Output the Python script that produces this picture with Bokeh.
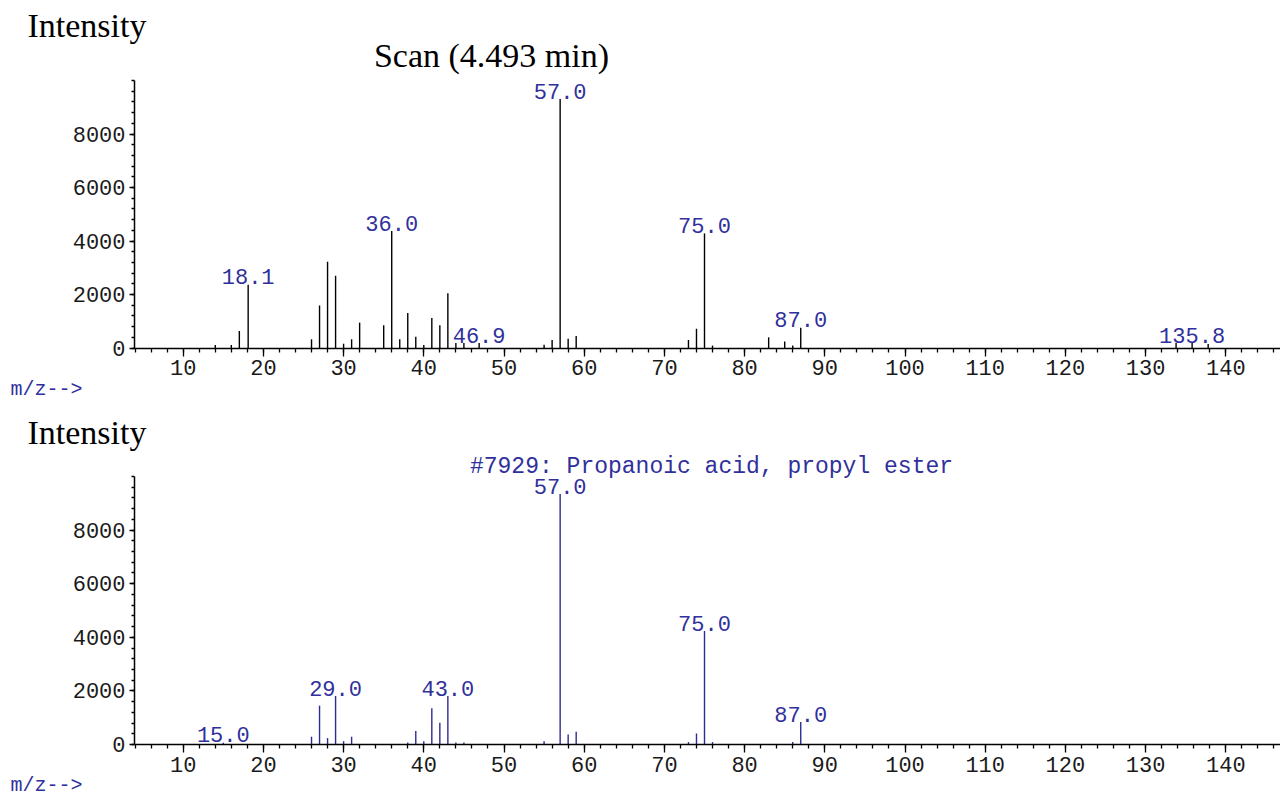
from bokeh.plotting import figure
from bokeh.models import ColumnDataSource, LabelSet, Label, FixedTicker, Range1d
from bokeh.layouts import column
from bokeh.core.properties import value
from bokeh.embed import file_html
from bokeh.resources import INLINE

# ---------------- data ----------------
# Top: measured scan at 4.493 min
scan_mz = [14, 16, 17, 18.1, 26, 27, 28, 29, 30, 31, 32, 35, 36, 37, 38, 39, 40,
           41, 42, 43, 44, 45, 46.9, 55, 56, 57, 58, 59, 73, 74, 75, 76, 83, 85,
           86, 87, 133.8, 135.8, 137.8]
scan_int = [110, 110, 640, 2375, 325, 1590, 3225, 2700, 160, 325, 950, 850, 4375,
            325, 1310, 425, 110, 1125, 850, 2050, 190, 190, 190, 125, 300, 9320,
            350, 450, 300, 720, 4290, 90, 400, 240, 90, 770, 185, 185, 150]
scan_labeled = [18.1, 36.0, 46.9, 57.0, 75.0, 87.0, 135.8]

# Bottom: library spectrum #7929 Propanoic acid, propyl ester
lib_mz = [15, 26, 27, 28, 29, 30, 31, 38, 39, 40, 41, 42, 43, 44, 45, 55, 57, 58,
          59, 73, 74, 75, 76, 86, 87]
lib_int = [75, 290, 1450, 240, 1810, 125, 290, 75, 500, 125, 1350, 810, 1810, 75,
           75, 125, 9345, 375, 475, 90, 410, 4237, 90, 90, 835]
lib_labeled = [15.0, 29.0, 43.0, 57.0, 75.0, 87.0]

x_ticks = list(range(10, 150, 10))
x_minor = list(range(4, 148, 2))
y_ticks = [0, 2000, 4000, 6000, 8000]
y_minor = list(range(0, 10001, 400))

scan_title = "Scan (4.493 min)"
lib_title = "#7929: Propanoic acid, propyl ester"
y_label = "Intensity"
x_label = "m/z-->"

MONO = "Liberation Mono"
SERIF = "Liberation Serif"
BLUE_TXT = "#30309c"
BLUE_LINE = "#2c2c94"

W = 1280
PX_PER_MZ = 8.02        # horizontal scale (pixels per m/z unit)
MZ10_PX = 182.7         # pixel column of m/z = 10
X_START = 10 - MZ10_PX / PX_PER_MZ
X_END = X_START + W / PX_PER_MZ
AXIS_X = 3.93           # m/z where the intensity axis sits


def make_panel(mz, inten, labeled, line_color, height, base_px, top_px,
               title_text, title_xy, title_font, title_size, title_color,
               ylab_y, xlab_y):
    ppu = (base_px - top_px) / 10000.0
    y_start = -(height - base_px) / ppu
    y_end = base_px / ppu
    p = figure(width=W, height=height, output_backend="svg", toolbar_location=None,
               x_range=Range1d(X_START, X_END), y_range=Range1d(y_start, y_end),
               min_border=0)
    p.title.visible = False
    p.outline_line_color = None
    p.xgrid.visible = False
    p.ygrid.visible = False
    p.background_fill_color = "white"
    p.border_fill_color = "white"

    src = ColumnDataSource(dict(x=mz, y=inten))
    p.segment(x0="x", y0=0, x1="x", y1="y", source=src, line_color=line_color,
              line_width=1.4)

    lx, ly, lt = [], [], []
    for v in labeled:
        idx = min(range(len(mz)), key=lambda i: abs(mz[i] - v))
        lx.append(mz[idx])
        ly.append(inten[idx])
        lt.append("%.1f" % v)
    lsrc = ColumnDataSource(dict(x=lx, y=ly, t=lt))
    p.add_layout(LabelSet(x="x", y="y", text="t", source=lsrc, text_align="center",
                          text_baseline="bottom", y_offset=0, text_font=value(MONO),
                          text_font_size=value("22px"), text_color=value(BLUE_TXT),
                          background_fill_color="white"))

    xa = p.xaxis[0]
    ya = p.yaxis[0]
    xa.fixed_location = 0
    ya.fixed_location = AXIS_X
    xa.bounds = (AXIS_X, X_END)
    ya.bounds = (0, 10000)
    for ax in (xa, ya):
        ax.axis_line_color = "black"
        ax.axis_line_width = 1.5
        ax.major_tick_line_color = "black"
        ax.minor_tick_line_color = "black"
        ax.major_tick_line_width = 1.3
        ax.minor_tick_line_width = 1.3
        ax.major_tick_in = 0
        ax.minor_tick_in = 0
        ax.major_label_text_font = MONO
        ax.major_label_text_font_size = "22px"
        ax.major_label_text_color = "#1a1a1a"
    xa.ticker = FixedTicker(ticks=x_ticks, minor_ticks=x_minor)
    ya.ticker = FixedTicker(ticks=y_ticks, minor_ticks=y_minor)
    xa.major_tick_out = 8
    xa.minor_tick_out = 4
    xa.major_label_standoff = 4
    ya.major_tick_out = 5
    ya.minor_tick_out = 3
    ya.major_label_standoff = 4

    p.add_layout(Label(x=27, y=ylab_y, x_units="screen", y_units="screen",
                       text=y_label, text_font=SERIF, text_font_size="34px",
                       text_color="black", text_align="left", text_baseline="middle"))
    p.add_layout(Label(x=title_xy[0], y=title_xy[1], x_units="screen", y_units="screen",
                       text=title_text, text_font=title_font, text_font_size=title_size,
                       text_color=title_color, text_align="center", text_baseline="middle"))
    p.add_layout(Label(x=10, y=xlab_y, x_units="screen", y_units="screen",
                       text=x_label, text_font=MONO, text_font_size="20px",
                       text_color=BLUE_TXT, text_align="left", text_baseline="middle"))
    return p


p1 = make_panel(scan_mz, scan_int, scan_labeled, "black", 400, 347.5, 80,
                scan_title, (491, 345), SERIF, "34px", "black", 375, 11)
p2 = make_panel(lib_mz, lib_int, lib_labeled, BLUE_LINE, 399, 344, 76,
                lib_title, (711, 333), MONO, "23px", BLUE_TXT, 367, 14)

layout = column(p1, p2, spacing=0)
open("out.html", "w").write(file_html(layout, INLINE))
